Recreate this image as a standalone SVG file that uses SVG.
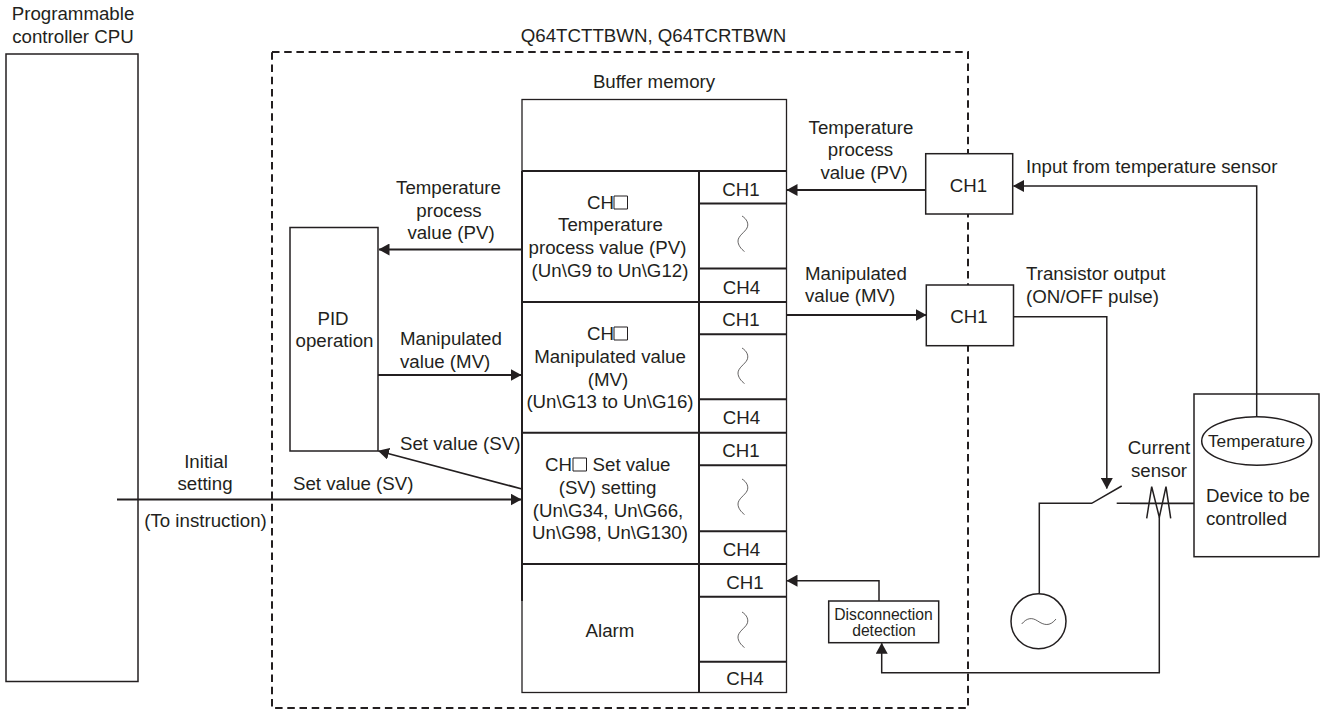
<svg xmlns="http://www.w3.org/2000/svg" width="1326" height="710" viewBox="0 0 1326 710">
<style>
text{font-family:"Liberation Sans",Arial,sans-serif;font-size:18.7px;fill:#231f20;text-anchor:middle}
.l{text-anchor:start}
.s{font-size:15.7px}
.b{fill:#fff;stroke:#231f20;stroke-width:1.5}
.t{fill:none;stroke:#231f20;stroke-width:2}
.c{fill:none;stroke:#231f20;stroke-width:1.5}
.a{fill:none;stroke:#231f20;stroke-width:1.8}
.w{fill:none;stroke:#231f20;stroke-width:.7}
</style>
<defs>
<marker id="ah" markerUnits="userSpaceOnUse" markerWidth="11" markerHeight="12" refX="10.500" refY="6" orient="auto"><path d="M0 0L11 6L0 12Z" fill="#231f20"/></marker>
<path id="sq" d="M0 0h13.500v13h-13.500z" fill="#fff" stroke="#231f20" stroke-width="1"/>
<path id="sw" d="M0 0c5 3 7 8 5 12c-2 4-9 8-9 13c0 4 3 8 6.500 10.500" class="w"/>
</defs>
<g id="cpu"><rect class="b" x="6" y="54" width="132" height="627.500"/><text x="73" y="20">Programmable</text><text x="73" y="43">controller CPU</text></g>
<g id="module"><rect x="272" y="52" width="696" height="656" fill="none" stroke="#231f20" stroke-width="2" stroke-dasharray="7.500 4.700"/><text x="653.500" y="41.500">Q64TCTTBWN, Q64TCRTBWN</text></g>
<g id="buffer">
<text x="654" y="88">Buffer memory</text>
<rect x="522" y="99.500" width="264.500" height="593" fill="#fff" stroke="#231f20" stroke-width="1.300"/>
<path class="t" d="M522 171H786.500M522 302H786.500M522 432.700H786.500M522 564H786.500M522 171V601M699 171V692.500M699 203.500H786.500M699 268.500H786.500M699 334.300H786.500M699 399.300H786.500M699 465.300H786.500M699 531.300H786.500M699 596.700H786.500M699 661.700H786.500"/>
<use href="#sw" x="742" y="216"/><use href="#sw" x="742" y="348"/><use href="#sw" x="742" y="479"/><use href="#sw" x="742" y="612"/>
<text x="741" y="196">CH1</text><text x="741.500" y="294">CH4</text><text x="741" y="326">CH1</text><text x="741.500" y="424">CH4</text><text x="741" y="457">CH1</text><text x="741.500" y="556">CH4</text><text x="745" y="589">CH1</text><text x="745" y="685">CH4</text>
<text class="l" x="587" y="209">CH</text><use href="#sq" x="614" y="196"/>
<text x="610.500" y="231">Temperature</text><text x="607.500" y="254">process value (PV)</text><text x="610" y="277">(Un\G9 to Un\G12)</text>
<text class="l" x="587" y="340">CH</text><use href="#sq" x="614" y="327"/>
<text x="610" y="363">Manipulated value</text><text x="608" y="386">(MV)</text><text x="610" y="408">(Un\G13 to Un\G16)</text>
<text class="l" x="545" y="471">CH</text><use href="#sq" x="573" y="458"/><text x="631.500" y="471">Set value</text>
<text x="607.500" y="494">(SV) setting</text><text x="608" y="517">(Un\G34, Un\G66,</text><text x="610" y="538.500">Un\G98, Un\G130)</text>
<text x="610" y="637">Alarm</text>
</g>
<g id="pid"><rect class="b" x="290" y="227.500" width="88" height="223.500"/><text x="333" y="325">PID</text><text x="334.500" y="347">operation</text></g>
<g id="ch1in"><rect class="b" x="925.700" y="153.700" width="87" height="60.300"/><text x="968.500" y="192">CH1</text></g>
<g id="ch1out"><rect class="b" x="926.300" y="285" width="87.200" height="60.700"/><text x="969" y="323">CH1</text></g>
<g id="disc"><rect class="b" x="828.700" y="601" width="110" height="41.700"/><text class="s" x="883.500" y="620">Disconnection</text><text class="s" x="884" y="636">detection</text></g>
<g id="device"><rect class="b" x="1194" y="394" width="125" height="162.700"/><ellipse class="b" cx="1256.700" cy="441" rx="55" ry="24.200"/><text x="1256.500" y="447" style="font-size:17.300px">Temperature</text><text class="l" x="1206" y="502">Device to be</text><text class="l" x="1206" y="525">controlled</text></g>
<g id="source"><circle class="b" cx="1038.500" cy="621.300" r="27.500"/><path class="w" d="M1021.700 624c5-6 10-7 16-3s12 6 18.300-2"/></g>
<g id="connectors">
<path class="a" d="M522 249.500H379" marker-end="url(#ah)"/>
<path class="a" d="M378 375H521" marker-end="url(#ah)"/>
<path class="a" d="M522 489L378.500 451" marker-end="url(#ah)"/>
<path class="a" d="M117 499.500H521" marker-end="url(#ah)"/>
<path class="a" d="M925.700 190H787" marker-end="url(#ah)"/>
<path class="a" d="M786.500 315H926" marker-end="url(#ah)"/>
<path class="c" d="M1256.700 416.800V186H1013.500" marker-end="url(#ah)"/>
<path class="c" d="M1013.500 316.700H1106.800V488.500" marker-end="url(#ah)"/>
<path class="c" d="M879 601V580.700H787" marker-end="url(#ah)"/>
<path class="c" d="M1159.300 517V672.700H881.700V643.300" marker-end="url(#ah)"/>
<path class="c" d="M1039.300 593.800V503.300H1091.700L1121.700 486M1116.700 503.300H1130"/>
<path class="a" d="M1130 503.300H1194"/>
<path class="c" d="M1146.700 518.300L1151.700 486.700L1159.300 517.300L1166 486.700L1170.700 518.300"/>
</g>
<g id="labels">
<text x="448.500" y="194">Temperature</text><text x="449" y="216.500">process</text><text x="451" y="239">value (PV)</text>
<text class="l" x="400" y="345">Manipulated</text><text class="l" x="400" y="367.500">value (MV)</text>
<text class="l" x="400" y="450">Set value (SV)</text>
<text class="l" x="293" y="490">Set value (SV)</text>
<text x="206" y="468">Initial</text><text x="205" y="490">setting</text><text x="205.500" y="527">(To instruction)</text>
<text x="861" y="134">Temperature</text><text x="860.500" y="156">process</text><text x="864" y="179">value (PV)</text>
<text class="l" x="805" y="280">Manipulated</text><text class="l" x="805" y="302">value (MV)</text>
<text class="l" x="1026" y="173">Input from temperature sensor</text>
<text class="l" x="1026" y="280">Transistor output</text><text class="l" x="1026" y="302.500">(ON/OFF pulse)</text>
<text x="1159" y="454">Current</text><text x="1159" y="476.500">sensor</text>
</g>
</svg>
